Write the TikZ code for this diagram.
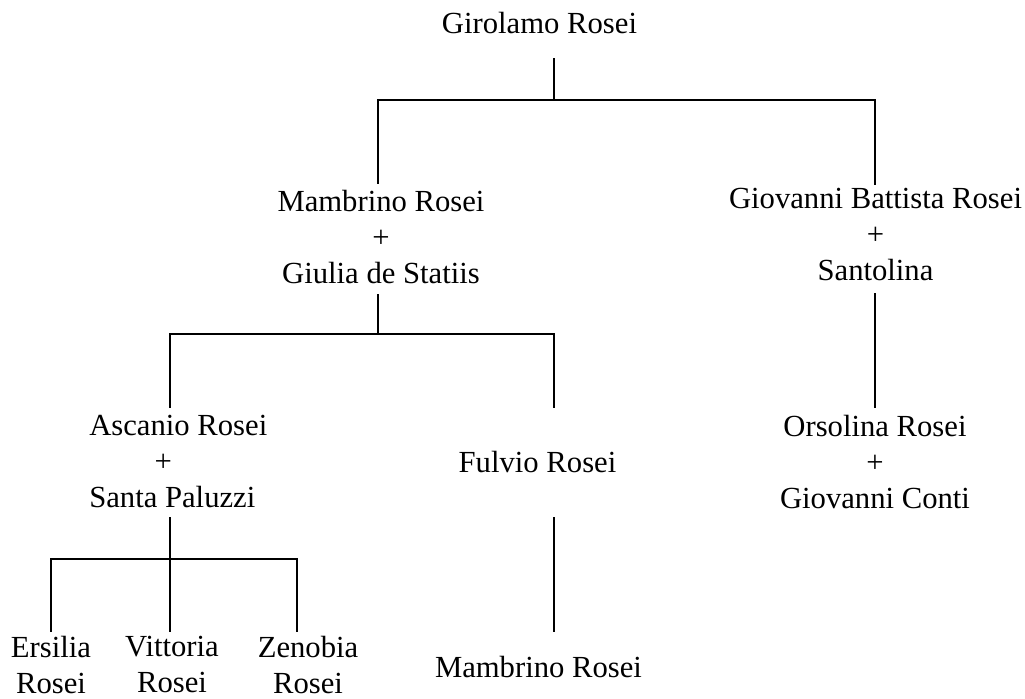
\documentclass[tikz,border=0pt]{standalone}
\usepackage{fontspec}
\setmainfont{Liberation Serif}
\usetikzlibrary{calc}
\begin{document}
\begin{tikzpicture}[x=0.75pt,y=-0.75pt,
        person/.style={inner sep=0pt, anchor=north, align=center, font=\fontsize{23}{27}\selectfont},
        kin/.style={line width=1.4pt}]
        \useasboundingbox (0,0) rectangle (1025,699);
        \node[person] (giro) at (539.5,12) {Girolamo Rosei};
        \node[person] (mamb) at (381,190) {Mambrino Rosei\\+\\Giulia de Statiis};
        \node[person] (gbat) at (875.5,188) {Giovanni Battista Rosei\\+\\Santolina};
        \node[person, anchor=north west, align=left] (asca) at (89,415) {Ascanio Rosei\\\hspace*{49pt}+\\Santa Paluzzi};
        \node[person] (fulv) at (537.5,451) {Fulvio Rosei};
        \node[person] (orso) at (875,415) {Orsolina Rosei\\+\\Giovanni Conti};
        \node[person] (mamb2) at (538.5,656) {Mambrino Rosei};
        \node[person] (ersi) at (51,636) {Ersilia\\Rosei};
        \node[person] (vitt) at (172,636) {Vittoria\\Rosei};
        \node[person] (zeno) at (308,636) {Zenobia\\Rosei};
        \coordinate (jgiro) at (554,100);
        \coordinate (jmamb) at (378,334);
        \coordinate (jasca) at (170,559);
        \draw[kin] ($(giro.south -| jgiro)+(0,24)$) -- (jgiro) -| ($(mamb.north)+(-3,-6)$);
        \draw[kin] (jgiro) -| ($(gbat.north)+(-0.5,-3)$);
        \draw[kin] ($(mamb.south -| jmamb)+(0,10)$) -- (jmamb) -| ($(asca.north -| jasca)+(0,-7)$);
        \draw[kin] (jmamb) -| ($(fulv.north)+(16.5,-43)$);
        \draw[kin] ($(gbat.south)+(-0.5,12)$) -- ($(orso.north)+(0,-7)$);
        \draw[kin] ($(fulv.south)+(16.5,44)$) -- ($(mamb2.north)+(15.5,-24)$);
        \draw[kin] ($(asca.south -| jasca)+(0,9)$) -- (jasca) -| ($(ersi.north)+(0,-4)$);
        \draw[kin] (jasca) -- ($(vitt.north -| jasca)+(0,-4)$);
        \draw[kin] (jasca) -| ($(zeno.north)+(-11,-4)$);
\end{tikzpicture}
\end{document}
